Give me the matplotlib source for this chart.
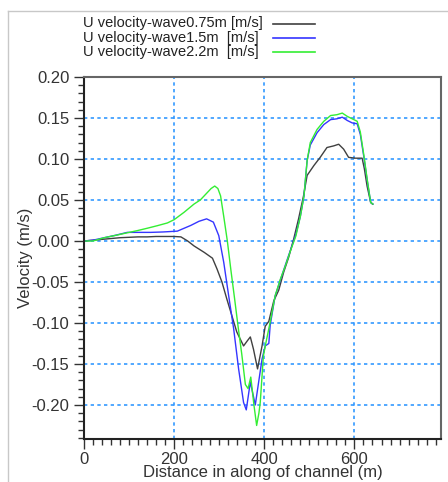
import matplotlib
matplotlib.use('Agg')
import matplotlib.pyplot as plt
from matplotlib.lines import Line2D
from matplotlib.ticker import MultipleLocator, FormatStrFormatter

plt.rcParams['font.family'] = ['Liberation Sans', 'DejaVu Sans']

# U velocity along the channel for three wave heights
dist_075 = [0, 20, 40, 60, 80, 100, 120, 140, 160, 180, 200, 215, 230, 244, 267, 285,
            295, 306, 317, 328, 339, 354, 362, 369, 376, 385, 395, 402, 410, 421, 432,
            443, 454, 465, 476, 487, 495, 510, 524, 539, 554, 565, 576, 587, 602, 617,
            622, 628, 636, 640]
vel_075 = [0, 0.001, 0.002, 0.003, 0.004, 0.0045, 0.005, 0.005, 0.0055, 0.0055, 0.0055,
           0.005, 0.0, -0.006, -0.014, -0.021, -0.034, -0.05, -0.071, -0.091, -0.111,
           -0.128, -0.122, -0.117, -0.132, -0.156, -0.128, -0.104, -0.098, -0.073,
           -0.06, -0.038, -0.02, 0.002, 0.027, 0.055, 0.08, 0.092, 0.102, 0.114, 0.116,
           0.118, 0.112, 0.102, 0.101, 0.101, 0.088, 0.067, 0.047, 0.045]

dist_15 = [0, 20, 45, 70, 96, 120, 148, 175, 207, 237, 255, 272, 287, 299, 310, 321,
           332, 343, 354, 360, 369, 380, 388, 395, 402, 410, 413, 424, 439, 450, 460,
           470, 480, 488, 495, 502, 517, 532, 547, 561, 573, 584, 595, 606, 613, 621,
           628, 636, 641]
vel_15 = [0, 0.001, 0.004, 0.007, 0.0105, 0.0105, 0.0105, 0.011, 0.012, 0.019, 0.024,
          0.027, 0.023, 0.0065, -0.026, -0.067, -0.107, -0.156, -0.197, -0.206, -0.172,
          -0.2, -0.17, -0.144, -0.128, -0.125, -0.103, -0.067, -0.042, -0.024, -0.008,
          0.008, 0.03, 0.055, 0.098, 0.117, 0.132, 0.142, 0.148, 0.149, 0.151, 0.147,
          0.144, 0.143, 0.13, 0.102, 0.075, 0.047, 0.045]

dist_22 = [0, 20, 45, 74, 96, 118, 140, 163, 185, 200, 222, 244, 258, 270, 282, 290,
           297, 303, 310, 318, 326, 334, 342, 350, 358, 364, 370, 377, 383, 388, 391,
           398, 404, 413, 424, 436, 447, 458, 470, 480, 488, 495, 502, 517, 532, 547,
           561, 573, 584, 595, 606, 613, 621, 628, 636, 641]
vel_22 = [0, 0, 0.004, 0.0073, 0.01, 0.0126, 0.0155, 0.0187, 0.022, 0.026, 0.035, 0.045,
          0.05, 0.057, 0.064, 0.067, 0.064, 0.055, 0.03, 0.0, -0.036, -0.07, -0.105,
          -0.138, -0.175, -0.18, -0.166, -0.2, -0.225, -0.21, -0.197, -0.14, -0.123,
          -0.099, -0.067, -0.046, -0.03, -0.012, 0.006, 0.03, 0.055, 0.098, 0.12, 0.136,
          0.146, 0.153, 0.154, 0.156, 0.152, 0.149, 0.146, 0.133, 0.104, 0.076, 0.047,
          0.045]

labels = ['U velocity-wave0.75m [m/s]', 'U velocity-wave1.5m  [m/s]',
          'U velocity-wave2.2m  [m/s]']
colors = ['#404040', '#3535ff', '#33ee33']

fig = plt.figure(figsize=(4.48, 4.82), dpi=100)
ax = fig.add_axes([84/448, 1 - 439/482, 357/448, 362/482])

series = [(dist_075, vel_075), (dist_15, vel_15), (dist_22, vel_22)]
for (d, v), lab, c in zip(series, labels, colors):
    ax.plot(d, v, color=c, lw=1.0, label=lab)

ax.set_xlim(0, 792)
ax.set_ylim(-0.2415, 0.20)
ax.xaxis.set_major_locator(MultipleLocator(200))
ax.xaxis.set_minor_locator(MultipleLocator(20))
ax.yaxis.set_major_locator(MultipleLocator(0.05))
ax.yaxis.set_minor_locator(MultipleLocator(0.01))
ax.yaxis.set_major_formatter(FormatStrFormatter('%.2f'))

ax.grid(True, which='major', color='#3399ff', linestyle=(0, (2, 2)), lw=1.2)
ax.tick_params(which='major', length=7, width=1, colors='#333333', labelsize=12)
ax.tick_params(axis='x', which='major', pad=2)
ax.tick_params(which='minor', length=4, width=1, colors='#333333')
for side in ['left', 'bottom']:
    ax.spines[side].set_color('#222222')
    ax.spines[side].set_linewidth(1.5)
for side in ['top', 'right']:
    ax.spines[side].set_color('#666666')
    ax.spines[side].set_linewidth(1.5)

ax.set_xlabel('Distance in along of channel (m)', fontsize=12, color='#333333', labelpad=-1)
ax.set_ylabel('Velocity (m/s)', fontsize=12, color='#333333', labelpad=-1)

# legend: label text on the left, line sample on the right
for i, (lab, c) in enumerate(zip(labels, colors)):
    y = 1 - (23.5 + 14.2 * i) / 482
    fig.text(83/448, y, lab, fontsize=10.5, color='#222222', ha='left', va='center')
    fig.add_artist(Line2D([273/448, 315/448], [y, y], color=c, lw=1.2))

# light frame around the figure
fig.add_artist(Line2D([8/448, 1], [1 - 11/482] * 2, color='#c8c8c8', lw=1))
fig.add_artist(Line2D([8/448] * 2, [0, 1 - 11/482], color='#c8c8c8', lw=1))

fig.savefig('out.png', dpi=100)
